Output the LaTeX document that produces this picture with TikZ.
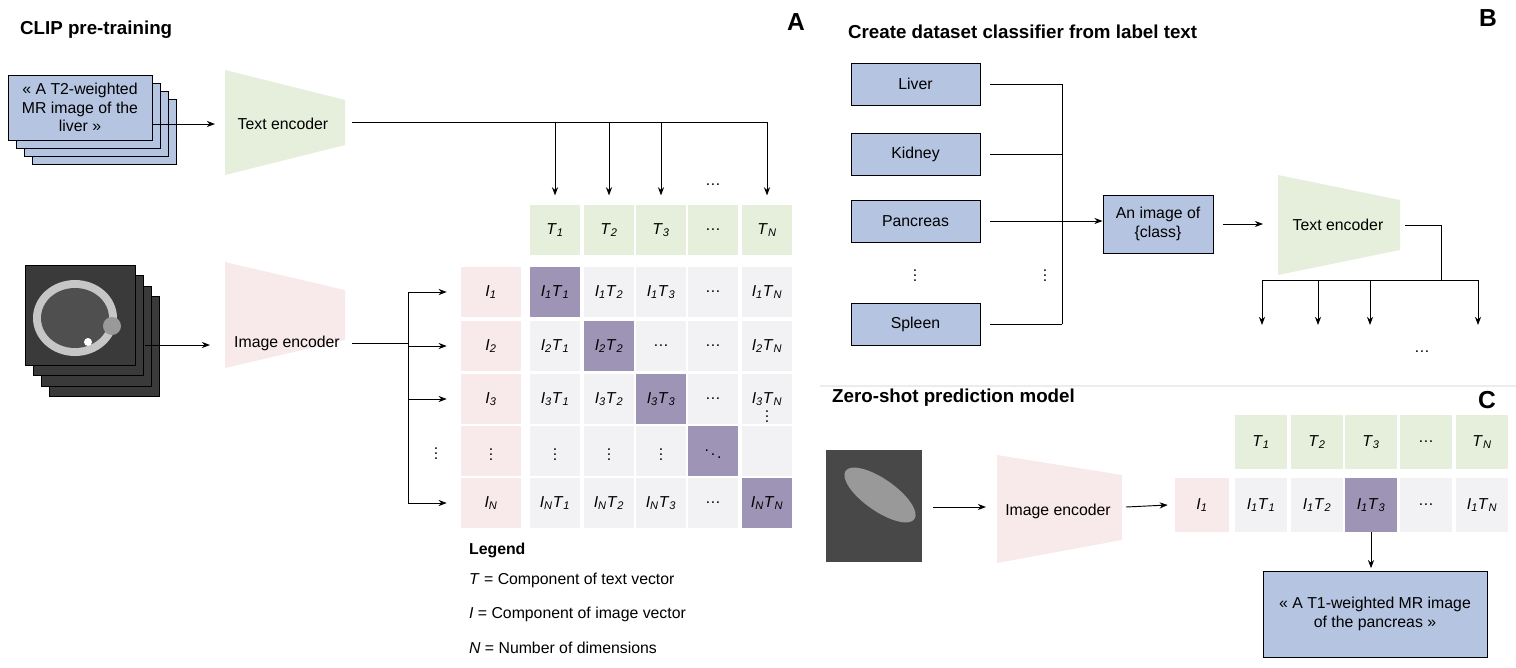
\documentclass[tikz,border=0pt]{standalone}
\usepackage{fontspec}
\setmainfont{Liberation Sans}
\usetikzlibrary{arrows.meta}
\definecolor{encgreen}{HTML}{E6EFDC}
\definecolor{encpink}{HTML}{F8E9EA}
\definecolor{cellgrey}{HTML}{F2F1F3}
\definecolor{celldiag}{HTML}{9D94B6}
\definecolor{boxblue}{HTML}{B5C4E0}
\definecolor{scan}{HTML}{3A3A3A}
\newcommand{\cv}[2]{\textit{#1}\textsubscript{\textit{#2}}}
\newcommand{\vd}{\raisebox{-2pt}{$\vdots$}}
\tikzset{
    txt/.style={font=\fontsize{13.5}{16}\selectfont},
    ttl/.style={font=\fontsize{16}{18}\selectfont\bfseries, anchor=west},
    tag/.style={font=\fontsize{21}{23}\selectfont\bfseries},
    cell/.style={minimum width=50*0.03cm, minimum height=50*0.03cm, fill=cellgrey, inner sep=0pt, txt},
    tcell/.style={cell, fill=encgreen},
    icell/.style={cell, fill=encpink, minimum width=60*0.03cm},
    dcell/.style={cell, fill=celldiag},
    label/.style={draw=black, fill=boxblue, line width=0.8pt, txt, align=center, inner sep=0pt},
    arr/.style={-{Stealth[length=7pt]}, line width=0.8pt},
    ln/.style={line width=0.8pt}
}
\begin{document}
\begin{tikzpicture}[x=0.03cm, y=-0.03cm]
\useasboundingbox (0,0) rectangle (1516,667);

% panel A
\node[ttl] at (16,30) {CLIP pre-training};
\node[tag] at (796,22) {A};

\foreach \d in {24,16,8}
{
    \draw[fill=boxblue, line width=0.8pt] (8+\d,75+\d) rectangle (152+\d,140+\d);
}
\node[label, minimum width=144*0.03cm, minimum height=65*0.03cm] (prompt) at (80,107.5) {« A T2-weighted\\MR image of the\\liver »};

\fill[encgreen] (225,70) -- (345,100) -- (345,145) -- (225,175) -- cycle;
\node[txt] (textenc) at (283,124) {Text encoder};
\draw[arr] (prompt.east |- 0,124) -- (215,124);

\foreach \x/\xtext [count=\i] in {555/\cv{T}{1},609/\cv{T}{2},661/\cv{T}{3},713/…,767/\cv{T}{N}}
{
    \node[tcell] (T\i) at (\x,230) {\xtext};
}
\coordinate (tbus) at (352,122);
\draw[ln] (tbus) -- (767,122);
\foreach \i in {1,2,3,5}
{
    \draw[arr] (tbus -| T\i) -- ([yshift=8pt]T\i.north);
}
\node[txt] at (713,185) {…};

\foreach \d in {24,16,8,0}
{
    \draw[fill=scan, draw=black] (25+\d,265+\d*1.3) rectangle (135+\d,365+\d*1.3);
}
\fill[gray!45] (75,318) ellipse (42 and 38);
\fill[scan!70!gray] (75,318) ellipse (34 and 30);
\fill[gray!80] (112,326) circle (9);
\fill[white] (88,342) circle (4);

\fill[encpink] (225,262) -- (345,290) -- (345,340) -- (225,368) -- cycle;
\node[txt] (imgenc) at (287,343) {Image encoder};
\draw[arr] (145,345) -- (210,345);

\foreach \y/\ytext [count=\j] in {292/\cv{I}{1},346/\cv{I}{2},399/\cv{I}{3},451/\vd,503/\cv{I}{N}}
{
    \node[icell] (I\j) at (491,\y) {\ytext};
}
\coordinate (ibus) at (408,343);
\draw[ln] (352,343) -- (ibus);
\draw[ln] (ibus |- I1) -- (ibus |- I5);
\foreach \j in {1,2,3,5}
{
    \draw[arr] (ibus |- I\j) -- ([xshift=-12pt]I\j.west);
}
\node[txt] at (436,450) {\vd};

\foreach \x [count=\i] in {555,609,661,713,767}
{
    \foreach \y [count=\j] in {292,346,399,451,503}
    {
        \node[cell] (M\j\i) at (\x,\y) {};
    }
}
\foreach \i in {1,...,5}
{
    \node[dcell] at (M\i\i) {};
}
\node[txt] at (M11) {\cv{I}{1}\cv{T}{1}};
\node[txt] at (M12) {\cv{I}{1}\cv{T}{2}};
\node[txt] at (M13) {\cv{I}{1}\cv{T}{3}};
\node[txt] at (M14) {…};
\node[txt] at (M15) {\cv{I}{1}\cv{T}{N}};
\node[txt] at (M21) {\cv{I}{2}\cv{T}{1}};
\node[txt] at (M22) {\cv{I}{2}\cv{T}{2}};
\node[txt] at (M23) {…};
\node[txt] at (M24) {…};
\node[txt] at (M25) {\cv{I}{2}\cv{T}{N}};
\node[txt] at (M31) {\cv{I}{3}\cv{T}{1}};
\node[txt] at (M32) {\cv{I}{3}\cv{T}{2}};
\node[txt] at (M33) {\cv{I}{3}\cv{T}{3}};
\node[txt] at (M34) {…};
\node[txt] at (M35) {\cv{I}{3}\cv{T}{N}};
\node[txt] at ([yshift=-12pt]M35) {\vd};
\foreach \i in {1,2,3}
{
    \node[txt] at (M4\i) {\vd};
}
\node[txt] at (M44) {$\ddots$};
\node[txt] at (M51) {\cv{I}{N}\cv{T}{1}};
\node[txt] at (M52) {\cv{I}{N}\cv{T}{2}};
\node[txt] at (M53) {\cv{I}{N}\cv{T}{3}};
\node[txt] at (M54) {…};
\node[txt] at (M55) {\cv{I}{N}\cv{T}{N}};

\node[txt, font=\fontsize{13.5}{16}\selectfont\bfseries, anchor=west] at (465,550) {Legend};
\node[txt, anchor=west] at (465,580) {\textit{T} = Component of text vector};
\node[txt, anchor=west] at (465,614) {\textit{I} = Component of image vector};
\node[txt, anchor=west] at (465,648) {\textit{N} = Number of dimensions};

% panel B
\node[ttl] at (844,32) {Create dataset classifier from label text};
\node[tag] at (1488,18) {B};
\coordinate (cbus) at (1062,84);
\foreach \y/\name in {84/Liver,154/Kidney,221/Pancreas,324/Spleen}
{
    \node[label, minimum width=129*0.03cm, minimum height=42*0.03cm] (\name) at (915.5,\y) {\name};
}
\foreach \name in {Liver,Kidney,Spleen}
{
    \draw[ln] ([xshift=8pt]\name.east) -- (cbus |- \name);
}
\draw[ln] (cbus) -- (cbus |- Spleen);
\node[txt] at (915,272) {\vd};
\node[txt] at (1045,272) {\vd};
\node[label, minimum width=110*0.03cm, minimum height=58*0.03cm] (class) at (1158,224) {An image of\\\{class\}};
\draw[arr] ([xshift=8pt]Pancreas.east) -- (class.west |- Pancreas);
\fill[encgreen] (1278,175) -- (1400,200) -- (1400,250) -- (1278,275) -- cycle;
\node[txt] (textenc2) at (1338,225) {Text encoder};
\draw[arr] ([xshift=8pt]class.east) -- (1263,224);
\coordinate (obus) at (1441,280);
\draw[ln] (1405,225) -- (1441,225) -- (obus);
\draw[ln] (1262,280) -- (1478,280);
\foreach \x in {1262,1318,1370,1478}
{
    \coordinate (o\x) at (\x,325);
    \draw[arr] (\x,280) -- (o\x);
}
\node[txt] at (1422,352) {…};

\draw[gray!15, line width=1pt] (820,386) -- (1516,386);

% panel C
\node[ttl] at (828,398) {Zero-shot prediction model};
\node[tag] at (1487,400) {C};
\fill[scan!80!gray] (826,450) rectangle (922,562);
\fill[gray!80, rotate around={-35:(880,495)}] (880,495) ellipse (42 and 16);
\fill[encpink] (997,455) -- (1122,475) -- (1122,540) -- (997,563) -- cycle;
\node[txt] (imgenc2) at (1058,511) {Image encoder};
\draw[arr] (933,507) -- (986,507);
\node[icell, minimum width=54*0.03cm, minimum height=54*0.03cm] (zI) at (1202,505) {\cv{I}{1}};
\draw[arr] (1126,507) -- ([xshift=-6pt]zI.west);
\foreach \x/\xtext/\ptext [count=\i] in {1261/\cv{T}{1}/\cv{I}{1}\cv{T}{1},1317/\cv{T}{2}/\cv{I}{1}\cv{T}{2},1371/\cv{T}{3}/\cv{I}{1}\cv{T}{3},1426/…/…,1482/\cv{T}{N}/\cv{I}{1}\cv{T}{N}}
{
    \node[tcell, minimum width=52*0.03cm, minimum height=54*0.03cm] (zT\i) at (\x,442) {\xtext};
    \node[cell, minimum width=52*0.03cm, minimum height=54*0.03cm] (zP\i) at (\x,505) {\ptext};
}
\node[dcell, minimum width=52*0.03cm, minimum height=54*0.03cm] at (zP3) {\cv{I}{1}\cv{T}{3}};
\node[label, minimum width=224*0.03cm, minimum height=86*0.03cm] (answer) at (1375,614) {« A T1-weighted MR image\\of the pancreas »};
\draw[arr] (zP3.south) -- ([yshift=2pt]zP3.south |- answer.north);
\end{tikzpicture}
\end{document}
